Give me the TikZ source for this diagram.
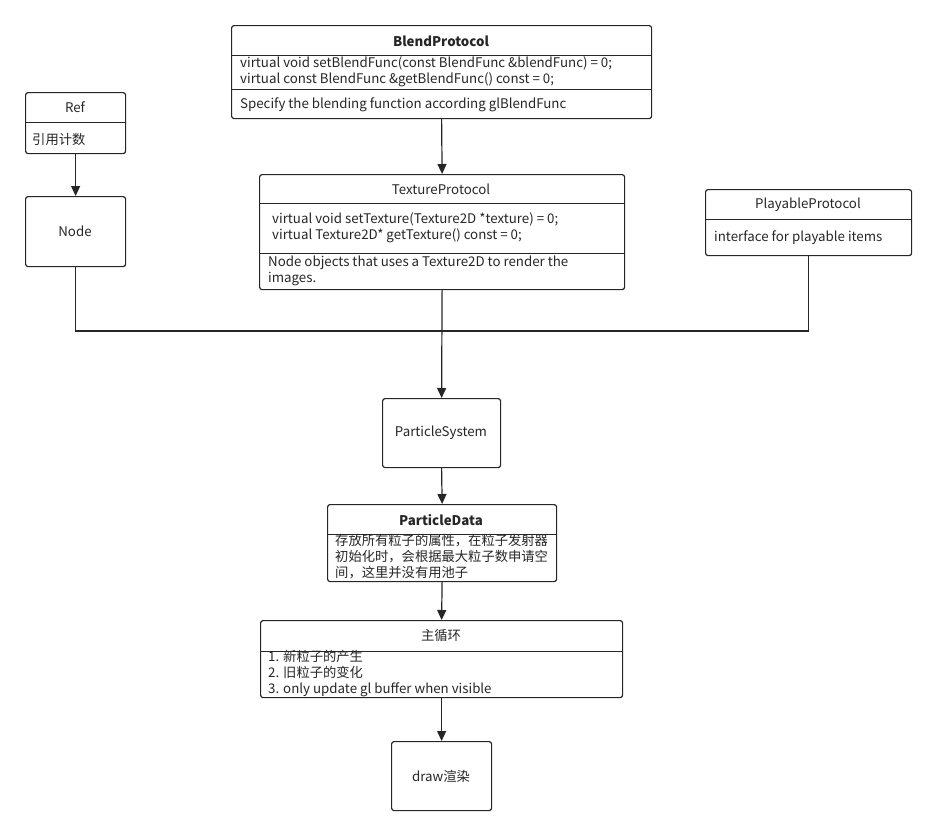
\documentclass[tikz,border=0pt]{standalone}
\usepackage{fontspec}
\setmainfont{Noto Sans CJK SC}
\usetikzlibrary{arrows.meta}
\begin{document}
\begin{tikzpicture}[x=1pt,y=-1pt,
  box/.style={draw=black!85,line width=1.2pt,rounded corners=2.5pt,inner sep=0pt,anchor=north west},
  div/.style={draw=black!85,line width=1pt},
  txt/.style={font=\fontsize{13.3}{16}\selectfont,inner sep=0pt,text=black!85},
  lt/.style={txt,anchor=west,align=left},
  conn/.style={draw=black!85,line width=1.2pt},
  arr/.style={conn,-{Triangle[length=10pt,width=9pt]}}]
\useasboundingbox (0,0) rectangle (936,836);
% BlendProtocol
\node[box,minimum width=420pt,minimum height=93pt] (blend) at (231,25) {};
\draw[div] (231,55) -- (651,55); \draw[div] (231,89) -- (651,89);
\node[txt,font=\fontsize{13.3}{16}\selectfont\bfseries] at (441,41) {BlendProtocol};
\node[lt] at (240,72) {virtual void setBlendFunc(const BlendFunc \&blendFunc) = 0;\\virtual const BlendFunc \&getBlendFunc() const = 0;};
\node[lt] at (240,105) {Specify the blending function according glBlendFunc};
% Ref
\node[box,minimum width=100pt,minimum height=61pt] (ref) at (25,92) {};
\draw[div] (25,122) -- (125,122);
\node[txt] at (75,107) {Ref};
\node[lt] at (32,139) {引用计数};
% Node
\node[box,minimum width=100pt,minimum height=70pt] (node) at (25,196) {};
\node[txt] at (75,231) {Node};
% TextureProtocol
\node[box,minimum width=365pt,minimum height=115pt] (tex) at (259,174) {};
\draw[div] (259,203) -- (624,203); \draw[div] (259,253) -- (624,253);
\node[txt] at (441,189) {TextureProtocol};
\node[lt] at (272,228) {virtual void setTexture(Texture2D *texture) = 0;\\virtual Texture2D* getTexture() const = 0;};
\node[lt] at (268,271) {Node objects that uses a Texture2D to render the\\images.};
% PlayableProtocol
\node[box,minimum width=206pt,minimum height=66pt] (play) at (705,189) {};
\draw[div] (705,219) -- (911,219);
\node[txt] at (808,205) {PlayableProtocol};
\node[lt] at (714,238) {interface for playable items};
% ParticleSystem
\node[box,minimum width=118pt,minimum height=69pt] (ps) at (382,398) {};
\node[txt] at (441,433) {ParticleSystem};
% ParticleData
\node[box,minimum width=229pt,minimum height=77pt] (pd) at (327,504) {};
\draw[div] (327,534) -- (556,534);
\node[txt,font=\fontsize{13.3}{16}\selectfont\bfseries] at (441,520) {ParticleData};
\node[lt] at (335,557) {存放所有粒子的属性，在粒子发射器\\初始化时，会根据最大粒子数申请空\\间，这里并没有用池子};
% main loop
\node[box,minimum width=362pt,minimum height=77pt] (loop) at (260,620) {};
\draw[div] (260,651) -- (622,651);
\node[txt] at (441,635) {主循环};
\node[lt] at (268,674) {1. 新粒子的产生\\2. 旧粒子的变化\\3. only update gl buffer when visible};
% draw
\node[box,minimum width=100pt,minimum height=69pt] (draw) at (391,741) {};
\node[txt] at (441,776) {draw渲染};
% connectors
\draw[arr] (ref.south) -- (node.north);
\draw[arr] (blend.south) -- (tex.north);
\coordinate (j) at (441,331);
\draw[conn] (node.south) |- (j);
\draw[conn] (play.south) |- (j);
\draw[arr] (tex.south) -- (ps.north);
\draw[arr] (ps.south) -- (pd.north);
\draw[arr] (pd.south) -- (loop.north);
\draw[arr] (loop.south) -- (draw.north);
\end{tikzpicture}
\end{document}
